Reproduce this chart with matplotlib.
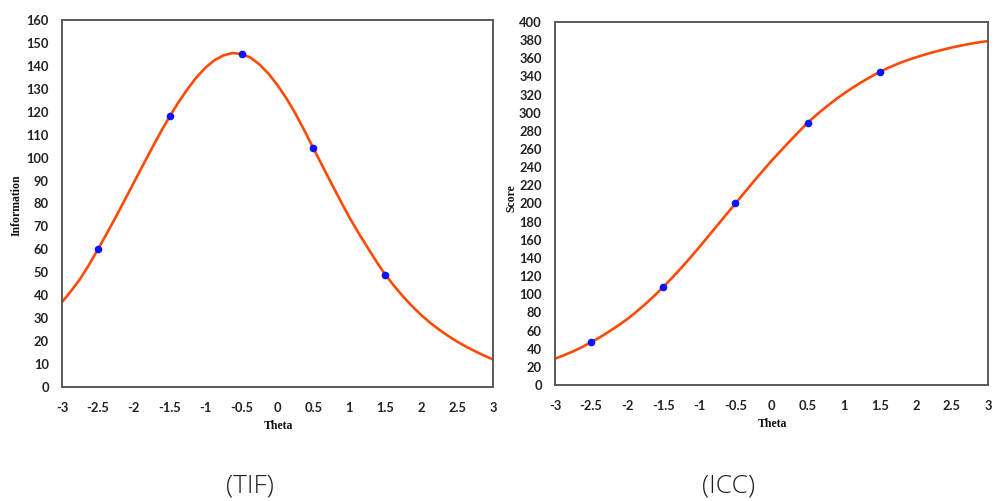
import matplotlib
matplotlib.use("Agg")
import matplotlib.pyplot as plt

# ---- data ----
theta_curve = [-3, -2.875, -2.75, -2.625, -2.5, -2.375, -2.25, -2.125, -2, -1.875,
               -1.75, -1.625, -1.5, -1.375, -1.25, -1.125, -1, -0.875, -0.75, -0.625,
               -0.5, -0.375, -0.25, -0.125, 0, 0.125, 0.25, 0.375, 0.5, 0.625,
               0.75, 0.875, 1, 1.125, 1.25, 1.375, 1.5, 1.625, 1.75, 1.875,
               2, 2.125, 2.25, 2.375, 2.5, 2.625, 2.75, 2.875, 3]
tif_curve = [37, 41.8, 47, 53.2, 60, 67, 74.2, 81.6, 89.1, 96.6,
             104, 111.2, 118, 124.3, 130, 135.1, 139.3, 142.5, 144.6, 145.6,
             145.2, 143.6, 140.6, 136.6, 131.6, 125.8, 119.2, 111.8, 104, 96.4,
             88.8, 81.3, 74, 67.3, 61, 54.8, 49, 44, 39.4, 35.2,
             31.4, 28, 25, 22.3, 19.8, 17.6, 15.6, 13.7, 12]
icc_curve = [29, 32.8, 37, 41.8, 47, 52.7, 59, 65.5, 72.5, 80.5,
             89, 98.2, 108, 118.3, 129, 140.3, 152, 164, 176, 188,
             200, 212, 224, 235.6, 247, 257.8, 268.4, 278.8, 289, 297.8,
             306, 313.8, 321, 327.6, 333.8, 339.6, 345, 349.7, 354, 357.7,
             361, 364.1, 366.9, 369.5, 371.9, 374, 375.9, 377.6, 379]

theta_points = [-2.5, -1.5, -0.5, 0.5, 1.5]
tif_points = [60, 118, 145, 104, 49]
icc_points = [47, 108, 200, 289, 345]

x_ticks = [-3, -2.5, -2, -1.5, -1, -0.5, 0, 0.5, 1, 1.5, 2, 2.5, 3]
x_tick_labels = ["-3", "-2.5", "-2", "-1.5", "-1", "-0.5", "0", "0.5", "1", "1.5", "2", "2.5", "3"]
tif_yticks = list(range(0, 161, 10))
icc_yticks = list(range(0, 401, 20))

LINE = "#ff4a05"
DOT = "#0a14ff"
SPINE = "#5a5a5a"
TICKFONT = dict(family="Lato", weight="bold", size=9.3)

fig = plt.figure(figsize=(9.94, 5.01), dpi=100)
fig.patch.set_facecolor("white")

ax1 = fig.add_axes([62/994, 1-387/501, (493-62)/994, (387-20)/501])
ax2 = fig.add_axes([555/994, 1-385/501, (988-555)/994, (385-22)/501])

for ax, yc, yp, yt in [(ax1, tif_curve, tif_points, tif_yticks),
                       (ax2, icc_curve, icc_points, icc_yticks)]:
    ax.plot(theta_curve, yc, color=LINE, lw=1.9, zorder=2,
            solid_capstyle="round", solid_joinstyle="round")
    ax.plot(theta_points, yp, "o", color=DOT, ms=5.5, zorder=3, markeredgewidth=0)
    ax.set_xlim(-3, 3)
    ax.set_ylim(yt[0], yt[-1])
    ax.set_xticks(x_ticks)
    ax.set_xticklabels(x_tick_labels, fontdict=TICKFONT)
    ax.set_yticks(yt)
    ax.set_yticklabels([str(v) for v in yt], fontdict=TICKFONT)
    ax.tick_params(axis="both", length=0, colors="#222222")
    ax.tick_params(axis="y", pad=9.5)
    ax.tick_params(axis="x", pad=11)
    for s in ax.spines.values():
        s.set_color(SPINE)
        s.set_linewidth(1.4)

serif = dict(family="Liberation Serif", weight="bold", size=8.5, color="#111111")
fig.text(17/994, 1-205/501, "Information", rotation=90, ha="center", va="center", **serif)
fig.text(278/994, 1-426/501, "Theta", ha="center", va="center", **serif)
fig.text(511/994, 1-198/501, "Score", rotation=90, ha="center", va="center", **serif)
fig.text(772/994, 1-424/501, "Theta", ha="center", va="center", **serif)

cap = dict(family="Open Sans", weight="light", size=19, color="#222222")
fig.text(250/994, 1-486/501, "(TIF)", ha="center", va="center", **cap)
fig.text(729/994, 1-486/501, "(ICC)", ha="center", va="center", **cap)

fig.savefig("out.png", dpi=100, facecolor="white")
